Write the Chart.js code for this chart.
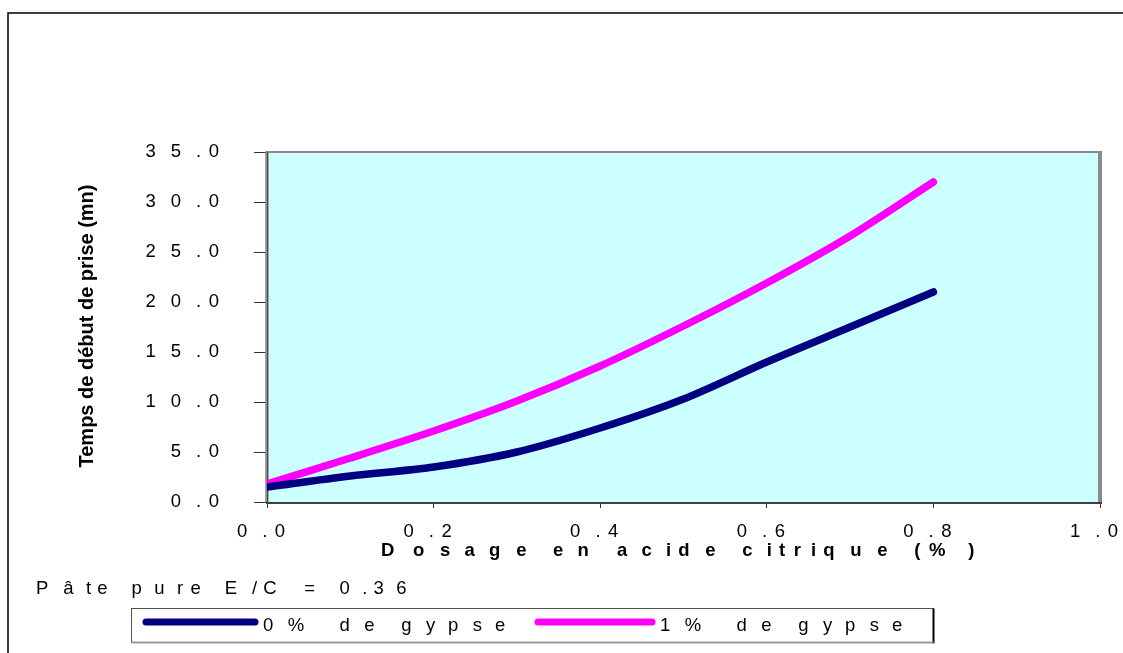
<!DOCTYPE html>
<html>
<head>
<meta charset="utf-8">
<script src="https://cdn.jsdelivr.net/npm/chart.js@4/dist/chart.umd.min.js"></script>
<style>
  html, body { margin: 0; padding: 0; background: #ffffff; }
  #wrap { width: 1123px; height: 653px; }
</style>
</head>
<body>
<div id="wrap"><canvas id="c" width="1123" height="653"></canvas></div>
<script>
// Citric acid dosage (%) and initial setting time (mn)
const dosage = [0.0, 0.1, 0.2, 0.3, 0.4, 0.5, 0.6, 0.7, 0.8];
const gypse0 = [1.5, 2.6, 3.5, 5.0, 7.4, 10.3, 14.0, 17.5, 21.0];
const gypse1 = [1.8, 4.4, 7.1, 10.1, 13.6, 17.6, 21.9, 26.6, 32.0];
const seriesNames = ['0% de gypse', '1% de gypse'];
const xTickLabels = ['0.0', '0.2', '0.4', '0.6', '0.8', '1.0'];
const yTickLabels = ['0.0', '5.0', '10.0', '15.0', '20.0', '25.0', '30.0', '35.0'];
const xTitle = 'Dosage en acide citrique (%)';
const yTitle = 'Temps de début de prise (mn)';
const note = 'Pâte pure E/C = 0.36';

const FONT = '"Liberation Sans", Arial, sans-serif';
const STRETCH = 2.46;

function toPoints(xs, ys) { return xs.map((x, i) => ({ x: x, y: ys[i] })); }

// Draws text with widened character advances (wide spread lettering)
function spreadText(ctx, text, x, y, align, k) {
  const chars = Array.from(text);
  const adv = chars.map(c => ctx.measureText(c).width);
  let total = 0;
  for (let i = 0; i < chars.length - 1; i++) total += adv[i] * k;
  total += adv[chars.length - 1];
  let start = x;
  if (align === 'right') start = x - total;
  else if (align === 'center') start = x - total / 2;
  ctx.textAlign = 'left';
  chars.forEach((c, i) => { ctx.fillText(c, start, y); start += adv[i] * k; });
}

const decor = {
  id: 'decor',
  beforeDraw(chart) {
    const { ctx, chartArea: a } = chart;
    ctx.save();
    ctx.fillStyle = '#ffffff';
    ctx.fillRect(0, 0, chart.width, chart.height);
    ctx.fillStyle = '#CCFFFF';
    ctx.fillRect(a.left, a.top, a.right - a.left, a.bottom - a.top);
    // outer frame
    ctx.strokeStyle = '#000000';
    ctx.lineWidth = 1.5;
    ctx.strokeRect(8, 13, 1140, 700);
    ctx.restore();
  },
  beforeDatasetsDraw(chart) {
    const { ctx, chartArea: a } = chart;
    ctx.save();
    ctx.strokeStyle = '#8a8a8a';
    ctx.lineWidth = 2;
    ctx.beginPath();
    ctx.moveTo(a.left, a.top); ctx.lineTo(a.right, a.top);
    ctx.stroke();
    ctx.lineWidth = 4;
    ctx.beginPath();
    ctx.moveTo(a.right, a.top - 1); ctx.lineTo(a.right, a.bottom);
    ctx.stroke();
    ctx.lineWidth = 3.5;
    ctx.beginPath();
    ctx.moveTo(a.left, a.top - 1); ctx.lineTo(a.left, a.bottom);
    ctx.stroke();
    ctx.strokeStyle = '#505050';
    ctx.lineWidth = 1;
    ctx.beginPath();
    ctx.moveTo(a.left + 0.5, a.top); ctx.lineTo(a.left + 0.5, a.bottom);
    ctx.stroke();
    ctx.strokeStyle = '#404040';
    ctx.lineWidth = 2;
    ctx.beginPath();
    ctx.moveTo(a.left - 1, a.bottom + 1); ctx.lineTo(a.right + 2, a.bottom + 1);
    ctx.stroke();
    ctx.restore();
  },
  afterDraw(chart) {
    const { ctx } = chart;
    const xs = chart.scales.x, ys = chart.scales.y;
    ctx.save();
    ctx.fillStyle = '#000000';
    ctx.textBaseline = 'middle';
    ctx.font = '18.5px ' + FONT;
    // tick labels
    xs.ticks.forEach((t, i) => {
      spreadText(ctx, String(t.label), xs.getPixelForTick(i) - 6, 532, 'center', STRETCH);
    });
    ys.ticks.forEach((t, i) => {
      spreadText(ctx, String(t.label), 219, ys.getPixelForTick(i), 'right', STRETCH);
    });
    // x axis title
    ctx.font = 'bold 18.5px ' + FONT;
    spreadText(ctx, xTitle, 381, 551, 'left', 2.39);
    // y axis title
    ctx.save();
    ctx.translate(87, 326);
    ctx.rotate(-Math.PI / 2);
    ctx.font = 'bold 20px ' + FONT;
    ctx.textAlign = 'center';
    ctx.fillText(yTitle, 0, 0);
    ctx.restore();
    // note
    ctx.font = '18.5px ' + FONT;
    spreadText(ctx, note, 36, 589, 'left', 2.21);
    // legend
    const box = { l: 131.5, t: 608.5, r: 933.5, b: 642.5 };
    ctx.fillStyle = '#ffffff';
    ctx.fillRect(box.l, box.t, box.r - box.l, box.b - box.t);
    ctx.strokeStyle = '#555555';
    ctx.lineWidth = 1;
    ctx.strokeRect(box.l, box.t, box.r - box.l, box.b - box.t);
    ctx.strokeStyle = '#000000';
    ctx.lineWidth = 2;
    ctx.beginPath(); ctx.moveTo(box.r, box.t); ctx.lineTo(box.r, box.b + 1); ctx.stroke();
    ctx.strokeStyle = '#999999';
    ctx.beginPath(); ctx.moveTo(box.l, box.b); ctx.lineTo(box.r, box.b); ctx.stroke();
    const items = [
      { x1: 146, x2: 255, tx: 263 },
      { x1: 538, x2: 652, tx: 660 }
    ];
    chart.data.datasets.forEach((ds, i) => {
      const it = items[i];
      ctx.strokeStyle = ds.borderColor;
      ctx.lineWidth = 7;
      ctx.lineCap = 'round';
      ctx.beginPath(); ctx.moveTo(it.x1, 622); ctx.lineTo(it.x2, 622); ctx.stroke();
      ctx.fillStyle = '#000000';
      ctx.font = '18.5px ' + FONT;
      spreadText(ctx, ds.label, it.tx, 626, 'left', 2.4);
    });
    ctx.restore();
  }
};

new Chart(document.getElementById('c'), {
  type: 'line',
  data: {
    datasets: [
      { label: seriesNames[0], data: toPoints(dosage, gypse0), borderColor: '#000080', backgroundColor: '#000080' },
      { label: seriesNames[1], data: toPoints(dosage, gypse1), borderColor: '#FF00FF', backgroundColor: '#FF00FF' }
    ]
  },
  options: {
    responsive: false,
    animation: false,
    devicePixelRatio: 1,
    layout: { padding: { top: 152, right: 23, left: 0, bottom: 0 } },
    elements: {
      line: { borderWidth: 7.5, tension: 0.3, borderCapStyle: 'round', borderJoinStyle: 'round', fill: false },
      point: { radius: 0, hoverRadius: 0 }
    },
    datasets: { line: { clip: 0 } },
    plugins: { legend: { display: false }, tooltip: { enabled: false }, title: { display: false } },
    scales: {
      x: {
        type: 'linear', min: 0, max: 1,
        afterFit(s) { s.height = 151; },
        afterBuildTicks(s) { s.ticks = xTickLabels.map(v => ({ value: parseFloat(v) })); },
        ticks: { color: 'rgba(0,0,0,0)', callback: (v, i) => xTickLabels[i], font: { size: 18 } },
        grid: { drawOnChartArea: false, drawTicks: true, tickLength: 6, color: '#333333' },
        border: { display: false }
      },
      y: {
        type: 'linear', min: 0, max: 35,
        afterFit(s) { s.width = 267; },
        afterBuildTicks(s) { s.ticks = yTickLabels.map(v => ({ value: parseFloat(v) })); },
        ticks: { color: 'rgba(0,0,0,0)', callback: (v, i) => yTickLabels[i], font: { size: 18 } },
        grid: { drawOnChartArea: false, drawTicks: true, tickLength: 13, color: '#333333' },
        border: { display: false }
      }
    }
  },
  plugins: [decor]
});
</script>
</body>
</html>
